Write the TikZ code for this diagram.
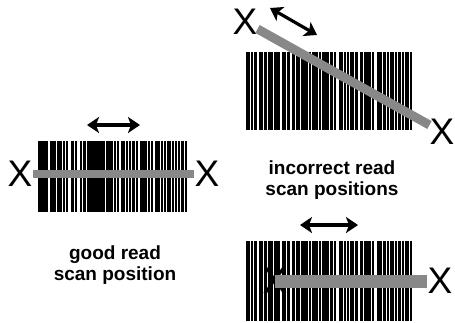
\documentclass[tikz,border=0pt]{standalone}
\usepackage{fontspec}
\setmainfont{Liberation Sans}
\usepackage{tikz}
\usetikzlibrary{arrows.meta}
\definecolor{bandgray}{HTML}{888888}

\tikzset{
    barcode/.pic={
        \foreach \s/\w in {0/2,3/1,5/1,8/2,11/1,13/3,17/1,19/1,22/2,25/1,28/1,30/2,33/4,38/1,40/3,44/1,46/4,51/1,53/1,56/2,59/1,61/1,63/2,66/1,69/1,71/2,74/1,76/1,79/3,83/1,85/1,87/2,90/1,92/1,94/1,96/2,99/1}
            \fill[black] (\s,0) rectangle ++(\w+0.45,1);
    }
}

\begin{document}
\begin{tikzpicture}[
    x=1pt, y=-1pt,
    cross/.style={inner sep=0pt, font=\fontsize{37}{37}\selectfont},
    band/.style={draw=bandgray, line width=#1},
    span/.style={black, line width=3.2pt, {Stealth[length=12pt,width=16pt,inset=3pt]}-{Stealth[length=12pt,width=16pt,inset=3pt]}},
    caption/.style={align=center, font=\fontsize{19}{21.5}\selectfont\bfseries}
]
    \useasboundingbox (0,0) rectangle (455,322);

    % Good read
    \pic[xscale=1.485, yscale=71] at (38,141) {barcode};
    \node[cross] (goodL) at (20,174) {X};
    \node[cross] (goodR) at (207,174) {X};
    \draw[band=8.5pt] (goodL) -- (goodR);
    \coordinate (goodA) at (87,125);
    \coordinate (goodB) at (140,125);
    \draw[span] (goodA) -- (goodB);
    \node[caption] (goodtxt) at (115,265) {good read\\scan position};

    % Incorrect read, slanted
    \pic[xscale=1.655, yscale=78] at (246,52) {barcode};
    \node[cross] (slantL) at (245,22) {X};
    \node[cross] (slantR) at (442,132) {X};
    \draw[band=9pt] (slantL) -- (slantR);
    \coordinate (slantA) at (270,8);
    \coordinate (slantB) at (317,35);
    \draw[span] (slantA) -- (slantB);
    \node[caption] (badtxt) at (332,180) {incorrect read\\scan positions};

    % Incorrect read, short
    \pic[xscale=1.655, yscale=80] at (246,241) {barcode};
    \node[cross] (shortL) at (275,281) {X};
    \node[cross] (shortR) at (440,281) {X};
    \draw[band=13pt] (shortL.center) -- (shortR);
    \coordinate (shortA) at (300,225);
    \coordinate (shortB) at (358,225);
    \draw[span] (shortA) -- (shortB);
\end{tikzpicture}
\end{document}
